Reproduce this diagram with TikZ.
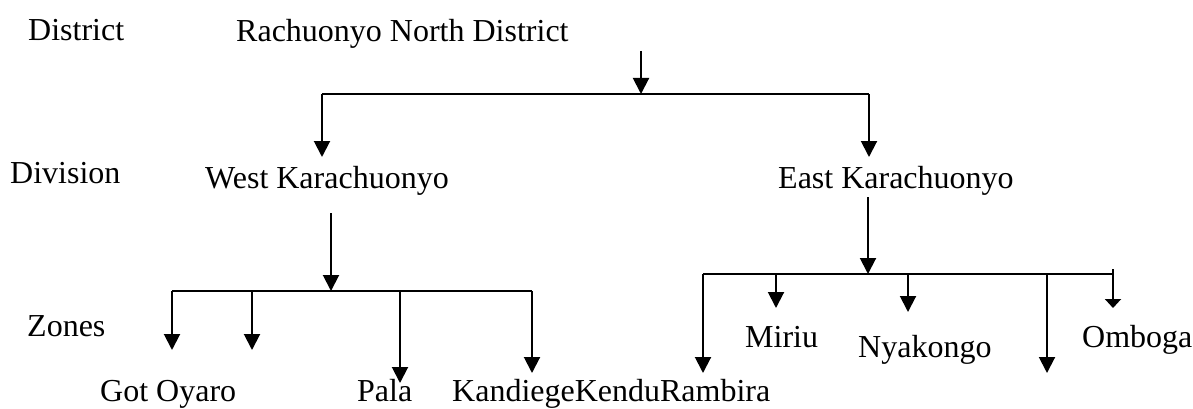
\documentclass[tikz,border=0pt]{standalone}
\usepackage{fontspec}
\setmainfont{Liberation Serif}
\usetikzlibrary{arrows.meta}
\begin{document}
\begin{tikzpicture}[x=1pt,y=-1pt,
  lbl/.style={anchor=base west,inner sep=0pt,font=\fontsize{32}{36}\selectfont},
  conn/.style={line width=2pt},
  arr/.style={conn,-{Triangle[length=16pt,width=16pt]}},
  sarr/.style={conn,-{Triangle[length=9pt,width=16pt]}}]
\useasboundingbox (0,0) rectangle (1193,409);
% labels
\node[lbl] (lDistrict) at (28,41) {District};
\node[lbl] (lDivision) at (10,183) {Division};
\node[lbl] (lZones) at (27,336) {Zones};
% nodes
\node[lbl] (rnd) at (236,42) {Rachuonyo North District};
\node[lbl] (west) at (205,188) {West Karachuonyo};
\node[lbl] (east) at (778,188) {East Karachuonyo};
\node[lbl] (got) at (100,401) {Got Oyaro};
\node[lbl] (pala) at (357,401) {Pala};
\node[lbl] (kkr) at (452,401) {KandiegeKenduRambira};
\node[lbl] (miriu) at (745,347) {Miriu};
\node[lbl] (nyak) at (858,357) {Nyakongo};
\node[lbl] (omb) at (1082,347) {Omboga};
% junction coordinates
\coordinate (t0) at (641,51);
\coordinate (t1) at (641,94);
\coordinate (tl) at (322,94);
\coordinate (tr) at (869,94);
\coordinate (tle) at (322,157);
\coordinate (tre) at (869,157);
\coordinate (w0) at (331,213);
\coordinate (w1) at (331,291);
\coordinate (wl) at (172,291);
\coordinate (wr) at (532,291);
\coordinate (e0) at (868,197);
\coordinate (e1) at (868,274);
\coordinate (el) at (703,274);
\coordinate (er) at (1113,274);
% top level
\draw[arr] (t0) -- (t1);
\draw[conn] (tl) -- (tr);
\draw[arr] (tl) -- (tle);
\draw[arr] (tr) -- (tre);
% west
\draw[arr] (w0) -- (w1);
\draw[conn] (wl) -- (wr);
\draw[arr] (wl) -- (172,350);
\draw[arr] (252,291) -- (252,350);
\draw[arr] (400,291) -- (400,383);
\draw[arr] (wr) -- (532,373);
% east
\draw[arr] (e0) -- (e1);
\draw[conn] (el) -- (er);
\draw[arr] (el) -- (703,373);
\draw[arr] (776,274) -- (776,308);
\draw[arr] (908,274) -- (908,312);
\draw[arr] (1047,274) -- (1047,373);
\draw[sarr] (1113,269) -- (1113,308);
\end{tikzpicture}
\end{document}
